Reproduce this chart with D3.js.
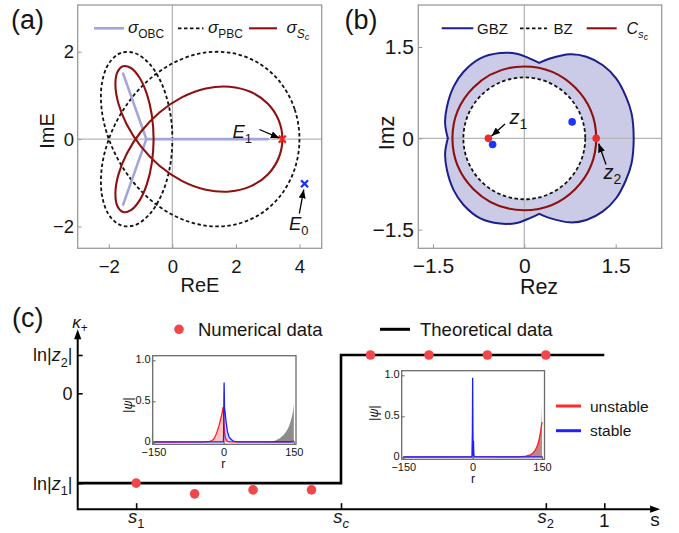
<!DOCTYPE html>
<html><head><meta charset="utf-8">
<script src="https://cdn.jsdelivr.net/npm/d3@7"></script>
<style>body{margin:0;background:#fff} svg{display:block}</style>
</head><body><svg id="c" width="679" height="533"></svg>
<script>
// ================= DATA =================
// (a) spectra in the complex E plane [ReE, ImE]
const pbcSpectrum = [[4,0],[3.849,0.684],[3.411,1.286],[2.732,1.732],[1.879,1.970],[0.938,1.970],[0,1.732],[-0.848,1.286],[-1.532,0.684],[-2,0],[-2.226,-0.684],[-2.216,-1.286],[-2,-1.732],[-1.633,-1.970],[-1.185,-1.970],[-0.732,-1.732],[-0.347,-1.286],[-0.090,-0.684],[0,0],[-0.090,0.684],[-0.347,1.286],[-0.732,1.732],[-1.185,1.970],[-1.633,1.970],[-2,1.732],[-2.216,1.286],[-2.226,0.684],[-2,0],[-1.532,-0.684],[-0.848,-1.286],[0,-1.732],[0.938,-1.970],[1.879,-1.970],[2.732,-1.732],[3.411,-1.286],[3.849,-0.684]];
const scSpectrum = [[3.463,0],[3.345,-0.433],[3.005,-0.809],[2.473,-1.077],[1.802,-1.200],[1.054,-1.159],[0.296,-0.955],[-0.407,-0.610],[-0.997,-0.163],[-1.436,0.333],[-1.701,0.819],[-1.793,1.236],[-1.732,1.532],[-1.552,1.669],[-1.304,1.628],[-1.037,1.410],[-0.805,1.037],[-0.647,0.549],[-0.591,0],[-0.647,-0.549],[-0.805,-1.037],[-1.037,-1.410],[-1.304,-1.628],[-1.552,-1.669],[-1.732,-1.532],[-1.793,-1.236],[-1.701,-0.819],[-1.436,-0.333],[-0.997,0.163],[-0.407,0.610],[0.296,0.955],[1.054,1.159],[1.802,1.200],[2.473,1.077],[3.005,0.809],[3.345,0.433]];
const obcArmMain = [[-0.82,0],[3.0,0]];
const obcArmUp = [[-1.55,1.5],[-0.82,0]];
const obcArmDown = [[-1.55,-1.5],[-0.82,0]];
const pointE1 = [3.46, 0];
const pointE0 = [4.16, -1.02];
const aXTicks = [-2, 0, 2, 4];
const aYTicks = [-2, 0, 2];

// (b) complex z plane
const gbzLeftUp = [[0.245,1.24],[0.093,1.31],[-0.125,1.39],[-0.40,1.40],[-0.73,1.31],[-1.0,1.09],[-1.16,0.85],[-1.27,0.52],[-1.30,0.245],[-1.255,0]];
const gbzLeftDown = [[-1.255,0],[-1.30,-0.245],[-1.27,-0.52],[-1.16,-0.85],[-1.0,-1.09],[-0.73,-1.31],[-0.40,-1.40],[-0.125,-1.39],[0.093,-1.31],[0.245,-1.24]];
const gbzRight = [[0.245,-1.24],[0.42,-1.31],[0.75,-1.38],[1.02,-1.34],[1.29,-1.2],[1.51,-0.98],[1.67,-0.68],[1.76,-0.41],[1.795,0],[1.76,0.41],[1.67,0.68],[1.51,0.98],[1.29,1.2],[1.02,1.34],[0.75,1.38],[0.42,1.31],[0.245,1.24]];
const bzRadius = 1.0;
const cscRadius = 1.18;
const rootsRed = [[-0.59,0],[1.18,0]];
const rootsBlue = [[0.785,0.27],[-0.52,-0.10]];
const bTicks = [-1.5, 0, 1.5];

// (c) kappa_+ versus s
const sTickValues = [0.111, 0.5, 0.889, 1];
const sTickNames = [["s","1"],["s","c"],["s","2"],["1",""]];
const kappaTickValues = [0.157, 0, -0.368];
const numS = [0.111,0.222,0.333,0.444,0.556,0.667,0.778,0.889];
const numKappa = [-0.368,-0.412,-0.396,-0.396,0.157,0.157,0.157,0.157];
const theoryS = [0,0.5,0.5,1];
const theoryKappa = [-0.368,-0.368,0.157,0.157];

// insets: [r, |psi|]
const in1Gray = [[80,0],[100,0.008],[110,0.02],[120,0.05],[128,0.09],[135,0.14],[140,0.2],[145,0.29],[148,0.37],[150,0.47],[150,0]];
const in1Red = [[-150,0.003],[-40,0.005],[-30,0.01],[-25,0.02],[-20,0.05],[-15,0.11],[-10,0.2],[-6,0.29],[-3,0.37],[-1,0.43],[0,0.34],[1,0.2],[2,0.12],[4,0.05],[8,0.012],[15,0.004],[140,0.004],[147,0.01],[150,0.02]];
const in1Blue = [[-150,0.004],[-0.5,0.004],[0,0.1],[0.5,0.5],[1,0.73],[1.8,0.42],[3,0.37],[5,0.26],[8,0.13],[12,0.06],[20,0.015],[30,0.005],[150,0.004]];
const in2Gray = [[100,0],[120,0.02],[130,0.06],[138,0.13],[143,0.22],[147,0.36],[150,0.66],[150,0]];
const in2Red = [[-150,0.003],[100,0.005],[115,0.015],[125,0.03],[130,0.05],[135,0.08],[140,0.14],[144,0.22],[147,0.31],[150,0.43]];
const in2Blue = [[-150,0.004],[-1.5,0.004],[-0.6,0.3],[0,0.97],[0.6,0.3],[1.2,0.02],[1.8,0.2],[2.6,0.03],[4,0.008],[150,0.004]];
const insetXTicks = [-150, 0, 150];
const insetYTicks = [0, 0.5, 1];

// ================= DRAWING =================
const FONT = '"Liberation Sans", Arial, Helvetica, sans-serif';
const INK = "#151515";
const svg = d3.select("#c");
svg.append("rect").attr("width",679).attr("height",533).attr("fill","#fff");

const defs = svg.append("defs");
defs.append("marker").attr("id","arr").attr("viewBox","0 0 10 8").attr("refX",10).attr("refY",4)
  .attr("markerWidth",9).attr("markerHeight",7).attr("markerUnits","userSpaceOnUse").attr("orient","auto")
  .append("path").attr("d","M0,0 L10,4 L0,8 Z").attr("fill","#000");

function mtext(parent, x, y, parts, size, anchor) {
  const t = parent.append("text").attr("x",x).attr("y",y).attr("font-size",size)
    .attr("font-family",FONT).attr("text-anchor",anchor||"start").attr("fill",INK);
  const off=[0,0.28,0.42], sc=[1,0.7,0.55];
  let cur=0;
  for (const [str,lvl,ital] of parts) {
    const ts=t.append("tspan").text(str).attr("font-size",size*sc[lvl]);
    if (ital) ts.attr("font-style","italic");
    const dy=(off[lvl]-off[cur])*size;
    if (dy) ts.attr("dy",dy);
    cur=lvl;
  }
  return t;
}

function framedAxes(g, xs, ys, xt, yt, fmt, fs, padB, padL) {
  const [x0,x1]=xs.range(), [y0,y1]=ys.range();
  const ax = d3.axisBottom(xs).tickValues(xt).tickSizeInner(-4).tickSizeOuter(0).tickPadding(padB).tickFormat(fmt);
  const ay = d3.axisLeft(ys).tickValues(yt).tickSizeInner(-4).tickSizeOuter(0).tickPadding(padL).tickFormat(fmt);
  const style = s => { s.select(".domain").remove(); s.selectAll("line").attr("stroke","#999").attr("stroke-width",1);
    s.selectAll("text").attr("font-size",fs).attr("font-family",FONT).attr("fill",INK); };
  g.append("g").attr("transform",`translate(0,${y0})`).call(ax).call(style);
  g.append("g").attr("transform",`translate(${x0},0)`).call(ay).call(style);
  g.append("rect").attr("x",x0).attr("y",y1).attr("width",x1-x0).attr("height",y0-y1)
    .attr("fill","none").attr("stroke","#9a9a9a").attr("stroke-width",1.3);
}
function zeroLines(g, xs, ys) {
  g.append("line").attr("x1",xs(0)).attr("x2",xs(0)).attr("y1",ys.range()[0]).attr("y2",ys.range()[1]).attr("stroke","#b5b5b5").attr("stroke-width",1.3);
  g.append("line").attr("y1",ys(0)).attr("y2",ys(0)).attr("x1",xs.range()[0]).attr("x2",xs.range()[1]).attr("stroke","#b5b5b5").attr("stroke-width",1.3);
}
function cross(g, x, y, col) {
  g.append("path").attr("d",`M${x-3.5},${y-3.5}L${x+3.5},${y+3.5}M${x-3.5},${y+3.5}L${x+3.5},${y-3.5}`)
    .attr("stroke",col).attr("stroke-width",2.2);
}
function arrow(g, x1,y1,x2,y2) {
  g.append("line").attr("x1",x1).attr("y1",y1).attr("x2",x2).attr("y2",y2)
    .attr("stroke","#000").attr("stroke-width",1.3).attr("marker-end","url(#arr)");
}

const DARKRED = "#8e1111", OBCCOL = "#a2a5dc", NAVY = "#1d1f8c";

// ---------- panel (a) ----------
const ga = svg.append("g");
const xa = d3.scaleLinear().domain([-2.98,4.7]).range([77.7,321.7]);
const ya = d3.scaleLinear().domain([-2.5,3.07]).range([248.3,5]);
zeroLines(ga, xa, ya);
const closedA = d3.line().x(d=>xa(d[0])).y(d=>ya(d[1])).curve(d3.curveCatmullRomClosed.alpha(0.5));
const straightA = d3.line().x(d=>xa(d[0])).y(d=>ya(d[1]));
ga.append("path").attr("d",closedA(pbcSpectrum)).attr("fill","none").attr("stroke","#111").attr("stroke-width",1.8).attr("stroke-dasharray","3.5,2.5");
[obcArmMain, obcArmUp, obcArmDown].forEach(a =>
  ga.append("path").attr("d",straightA(a)).attr("fill","none").attr("stroke",OBCCOL).attr("stroke-width",2.6).attr("stroke-linecap","round"));
ga.append("path").attr("d",closedA(scSpectrum)).attr("fill","none").attr("stroke",DARKRED).attr("stroke-width",2.1);
cross(ga, xa(pointE1[0]), ya(pointE1[1]), "#ee2222");
cross(ga, xa(pointE0[0]), ya(pointE0[1]), "#1a2ee6");
framedAxes(ga, xa, ya, aXTicks, aYTicks, d3.format("d"), 18.5, 11.5, 3.7);
// legend (a)
ga.append("line").attr("x1",94).attr("x2",124).attr("y1",28.3).attr("y2",28.3).attr("stroke",OBCCOL).attr("stroke-width",2.6);
mtext(ga, 128, 33, [["σ",0,true],["OBC",1,false]], 17);
ga.append("line").attr("x1",178).attr("x2",203.5).attr("y1",28.3).attr("y2",28.3).attr("stroke","#111").attr("stroke-width",1.8).attr("stroke-dasharray","3.5,2.5");
mtext(ga, 208, 33, [["σ",0,true],["PBC",1,false]], 17);
ga.append("line").attr("x1",249).attr("x2",277).attr("y1",28.3).attr("y2",28.3).attr("stroke",DARKRED).attr("stroke-width",2.1);
mtext(ga, 286.5, 33, [["σ",0,true],["S",1,true],["c",2,true]], 17);
// annotations
mtext(ga, 232.5, 137.5, [["E",0,true],["1",1,false]], 18.5);
arrow(ga, 259.5, 129.5, 279.5, 138.2);
mtext(ga, 289, 230, [["E",0,true],["0",1,false]], 18.5);
arrow(ga, 299.3, 213.5, 303.8, 189.5);
mtext(ga, 200, 292, [["ReE",0,false]], 20, "middle");
mtext(ga, 0, 0, [["ImE",0,false]], 20, "middle").attr("transform","translate(53.5,131) rotate(-90)");
mtext(ga, 11, 28.5, [["(a)",0,false]], 27);

// ---------- panel (b) ----------
const gb = svg.append("g");
const xb = d3.scaleLinear().domain([-1.74,2.255]).range([418.3,661.7]);
const yb = d3.scaleLinear().domain([-1.806,2.19]).range([248.3,5]);
const openB = d3.line().x(d=>xb(d[0])).y(d=>yb(d[1])).curve(d3.curveCatmullRom.alpha(0.5));
const gbzD = [gbzLeftUp, gbzLeftDown, gbzRight].map((s,i)=>{ const d=openB(s); return i===0? d : "L"+d.slice(1); }).join("") + "Z";
const rBZ = xb(bzRadius)-xb(0), rCsc = xb(cscRadius)-xb(0);
const bzP = d3.path(); bzP.moveTo(xb(0)+rBZ, yb(0)); bzP.arc(xb(0), yb(0), rBZ, 0, 2*Math.PI); bzP.closePath();
gb.append("path").attr("d", gbzD + bzP.toString()).attr("fill","#cbcbe7").attr("fill-rule","evenodd").attr("stroke","none");
zeroLines(gb, xb, yb);
gb.append("path").attr("d",gbzD).attr("fill","none").attr("stroke",NAVY).attr("stroke-width",2);
gb.append("circle").attr("cx",xb(0)).attr("cy",yb(0)).attr("r",rBZ).attr("fill","none").attr("stroke","#111").attr("stroke-width",1.8).attr("stroke-dasharray","3.5,2.5");
gb.append("circle").attr("cx",xb(0)).attr("cy",yb(0)).attr("r",rCsc).attr("fill","none").attr("stroke",DARKRED).attr("stroke-width",2.1);
gb.selectAll(".rb").data(rootsBlue).join("circle").attr("cx",d=>xb(d[0])).attr("cy",d=>yb(d[1])).attr("r",3.8).attr("fill","#1f35f5");
gb.selectAll(".rr").data(rootsRed).join("circle").attr("cx",d=>xb(d[0])).attr("cy",d=>yb(d[1])).attr("r",3.8).attr("fill","#ee2a2a");
framedAxes(gb, xb, yb, bTicks, bTicks, v => v===0 ? "0" : d3.format(".1f")(v), 21, 10, 4.3);
// legend (b)
gb.append("line").attr("x1",441.7).attr("x2",473.3).attr("y1",28.3).attr("y2",28.3).attr("stroke",NAVY).attr("stroke-width",2);
mtext(gb, 477, 33.5, [["GBZ",0,false]], 15);
gb.append("line").attr("x1",520).attr("x2",547).attr("y1",28.3).attr("y2",28.3).attr("stroke","#111").attr("stroke-width",1.8).attr("stroke-dasharray","3.5,2.5");
mtext(gb, 553.5, 33.5, [["BZ",0,false]], 15);
gb.append("line").attr("x1",586.7).attr("x2",616.7).attr("y1",28.3).attr("y2",28.3).attr("stroke",DARKRED).attr("stroke-width",2.1);
mtext(gb, 626.5, 33.5, [["C",0,true],["s",1,true],["c",2,true]], 16);
// annotations
mtext(gb, 509.5, 123.5, [["z",0,true],["1",1,false]], 20);
arrow(gb, 505, 124, 491.5, 136);
mtext(gb, 603.5, 178.5, [["z",0,true],["2",1,false]], 20);
arrow(gb, 606, 164.5, 598.6, 143.5);
mtext(gb, 539, 294, [["Rez",0,false]], 21.5, "middle");
mtext(gb, 0, 0, [["Imz",0,false]], 21.5, "middle").attr("transform","translate(393.5,133) rotate(-90)");
mtext(gb, 344.5, 28.5, [["(b)",0,false]], 27);

// ---------- panel (c) ----------
const gc = svg.append("g");
const xs = d3.scaleLinear().domain([0,1]).range([77.7,604.3]);
const ys = d3.scaleLinear().domain([0,1]).range([393.3,149.3]);
const sEnd = 1.106, kTop = 0.262, kBot = -0.475;
// axes
gc.append("line").attr("x1",xs(0)).attr("x2",xs(sEnd)-7).attr("y1",ys(kBot)).attr("y2",ys(kBot)).attr("stroke","#000").attr("stroke-width",2);
gc.append("line").attr("x1",xs(0)).attr("x2",xs(0)).attr("y1",ys(kBot)+1).attr("y2",ys(kTop)+7).attr("stroke","#000").attr("stroke-width",2);
gc.append("path").attr("d",`M${xs(sEnd)},${ys(kBot)} l-10,-3.6 l0,7.2 Z`).attr("fill","#000");
gc.append("path").attr("d",`M${xs(0)},${ys(kTop)} l-3.6,10 l7.2,0 Z`).attr("fill","#000");
const axS = d3.axisBottom(xs).tickValues(sTickValues).tickSizeInner(-6).tickSizeOuter(0).tickFormat("");
gc.append("g").attr("transform",`translate(0,${ys(kBot)})`).call(axS).call(s=>{s.select(".domain").remove(); s.selectAll("line").attr("stroke","#000").attr("stroke-width",1.6);});
const axK = d3.axisLeft(ys).tickValues(kappaTickValues).tickSizeInner(-5).tickSizeOuter(0).tickFormat("");
gc.append("g").attr("transform",`translate(${xs(0)},0)`).call(axK).call(s=>{s.select(".domain").remove(); s.selectAll("line").attr("stroke","#000").attr("stroke-width",1.6);});
// tick labels
sTickValues.forEach((v,i)=>{
  const [a,b]=sTickNames[i];
  if (b) mtext(gc, xs(v), 522.5, [[a,0,true],[b,1,b!=="1"&&b!=="2"]], 18.5, "middle");
  else mtext(gc, xs(v), 526.5, [[a,0,false]], 19, "middle");
});
mtext(gc, xs(sEnd)-5, 526, [["s",0,false]], 19, "middle");
mtext(gc, 72.5, ys(kappaTickValues[0])+6.5, [["ln|",0,false],["z",0,true],["2",1,false],["|",0,false]], 18, "end");
mtext(gc, 72.5, ys(kappaTickValues[1])+6.5, [["0",0,false]], 18, "end");
mtext(gc, 72.5, ys(kappaTickValues[2])+6.5, [["ln|",0,false],["z",0,true],["1",1,false],["|",0,false]], 18, "end");
mtext(gc, 80, 327.5, [["κ",0,true],["+",1,false]], 17, "middle");
mtext(gc, 12, 327, [["(c)",0,false]], 27);
// theory & numerics
const theoryLine = d3.line().x((d,i)=>xs(theoryS[i])).y((d,i)=>ys(theoryKappa[i]));
gc.append("path").attr("d",theoryLine(theoryS)).attr("fill","none").attr("stroke","#000").attr("stroke-width",2.6);
gc.selectAll(".nd").data(numS).join("circle").attr("cx",d=>xs(d)).attr("cy",(d,i)=>ys(numKappa[i])).attr("r",4.8).attr("fill","#f0484a");
// legend (c)
gc.append("circle").attr("cx",179).attr("cy",329.3).attr("r",4.8).attr("fill","#f0484a");
mtext(gc, 198, 335.8, [["Numerical data",0,false]], 18.5);
gc.append("line").attr("x1",380).attr("x2",410).attr("y1",329.3).attr("y2",329.3).attr("stroke","#000").attr("stroke-width",3);
mtext(gc, 420, 335.8, [["Theoretical data",0,false]], 18.5);
gc.append("line").attr("x1",556).attr("x2",581).attr("y1",406).attr("y2",406).attr("stroke","#ff2a2a").attr("stroke-width",3);
mtext(gc, 590, 411.5, [["unstable",0,false]], 15.5);
gc.append("line").attr("x1",556).attr("x2",581).attr("y1",430.7).attr("y2",430.7).attr("stroke","#1f1fff").attr("stroke-width",3);
mtext(gc, 590, 436, [["stable",0,false]], 15.5);

function inset(frame, xr, yr, gray, grayFill, red, redFill, blue, rPos, psiPos) {
  const g = gc.append("g");
  const xi = d3.scaleLinear().domain([-150,150]).range(xr);
  const yi = d3.scaleLinear().domain([0,1]).range(yr);
  const [fx0,fx1,fy0,fy1] = frame;
  g.append("rect").attr("x",fx0).attr("y",fy0).attr("width",fx1-fx0).attr("height",fy1-fy0).attr("fill","#fff");
  const area = d3.area().x(d=>xi(d[0])).y0(yi(0)).y1(d=>yi(d[1]));
  const line = d3.line().x(d=>xi(d[0])).y(d=>yi(d[1]));
  g.append("path").attr("d",area(gray)).attr("fill",grayFill[0]).attr("fill-opacity",grayFill[1]);
  g.append("path").attr("d",area(red)).attr("fill",redFill[0]).attr("fill-opacity",redFill[1]);
  g.append("path").attr("d",area(blue)).attr("fill","#2a2aff").attr("fill-opacity",0.2);
  g.append("path").attr("d",line(red)).attr("fill","none").attr("stroke","#ff2020").attr("stroke-width",1.3);
  g.append("path").attr("d",line(blue)).attr("fill","none").attr("stroke","#1c1cff").attr("stroke-width",1.3);
  const style = s => { s.select(".domain").remove(); s.selectAll("line").attr("stroke","#666");
    s.selectAll("text").attr("font-size",11).attr("font-family",FONT).attr("fill",INK); };
  g.append("g").attr("transform",`translate(0,${fy1})`)
    .call(d3.axisBottom(xi).tickValues(insetXTicks).tickSizeInner(-3).tickSizeOuter(0).tickPadding(3.5).tickFormat(d3.format("d"))).call(style);
  g.append("g").attr("transform",`translate(${fx0},0)`)
    .call(d3.axisLeft(yi).tickValues(insetYTicks).tickSizeInner(-3).tickSizeOuter(0).tickPadding(2).tickFormat(v=>v===0?"0":d3.format(".1f")(v))).call(style)
    .call(s=>s.selectAll("text").attr("dy","0.22em"));
  g.append("rect").attr("x",fx0).attr("y",fy0).attr("width",fx1-fx0).attr("height",fy1-fy0).attr("fill","none").attr("stroke","#6a6a6a").attr("stroke-width",1.3);
  mtext(g, rPos[0], rPos[1], [["r",0,false]], 12.5, "middle");
  mtext(g, 0, 0, [["|",0,false],["ψ",0,true],["|",0,false]], 12.5, "middle").attr("transform",`translate(${psiPos[0]},${psiPos[1]}) rotate(-90)`);
}
inset([152.7,296,355.7,444.3],[153.5,293.8],[442.3,360.3], in1Gray, ["#808080",0.9], in1Red, ["#ff3030",0.28], in1Blue, [223.3,468], [132,405]);
inset([401.7,544.5,370.7,459.3],[403.3,542],[457.3,375.3], in2Gray, ["#8a8a8a",0.45], in2Red, ["#c03030",0.45], in2Blue, [473,482.5], [377.5,413]);
</script></body></html>
